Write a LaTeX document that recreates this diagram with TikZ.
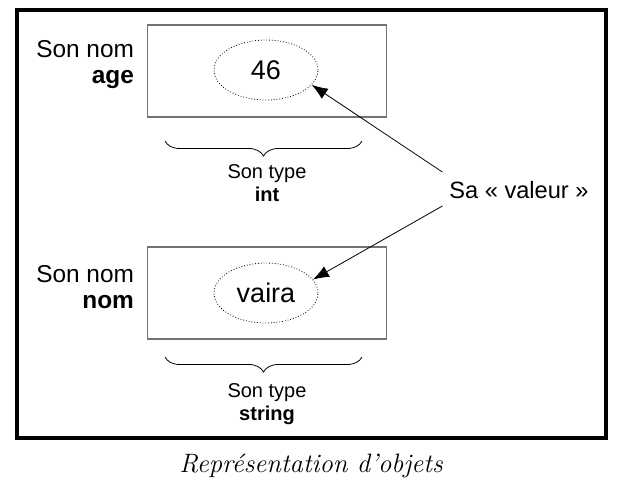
\documentclass[tikz,border=0pt]{standalone}
\usepackage{fontspec}
\newfontfamily\arial{Liberation Sans}
\usetikzlibrary{decorations.pathreplacing, arrows.meta, shapes.geometric, positioning}

\tikzset{
  box/.style={draw=black!55, line width=0.6pt, minimum width=119.5pt, minimum height=46pt},
  val/.style={ellipse, draw, densely dotted, line width=0.4pt, minimum width=52pt, minimum height=30pt, font=\arial\fontsize{13.5}{15}\selectfont},
  lbl/.style={align=right, anchor=east, font=\arial\fontsize{12.2}{13}\selectfont},
  typ/.style={align=center, font=\arial\fontsize{10}{11.5}\selectfont},
  brc/.style={decorate, decoration={brace, mirror, amplitude=7.5pt}, line width=0.4pt},
}

\begin{document}
\begin{tikzpicture}[x=0.5pt, y=-0.5pt, >={Latex[length=8pt, width=6pt]}]
  \useasboundingbox (0,0) rectangle (623,495);
  \draw[line width=2pt] (17,10) rectangle (606,438);

  % first variable
  \node[box] (b1) at (267,71) {};
  \node[val] (v1) at (266,70) {46};
  \node[lbl] (n1) at (141,65) {Son nom\\\textbf{age}};
  \draw[brc] (165,141) -- (362,141);
  \node[typ] (t1) at (267,183) {Son type\\\textbf{int}};

  % second variable
  \node[box] (b2) at (267,293) {};
  \node[val] (v2) at (266,293) {vaira};
  \node[lbl] (n2) at (141,287) {Son nom\\\textbf{nom}};
  \draw[brc] (165,357) -- (362,357);
  \node[typ] (t2) at (267,404) {Son type\\\textbf{string}};

  % the value
  \node[font=\arial\fontsize{11.8}{13}\selectfont] (sv) at (519,190) {Sa « valeur »};

  \draw
  ([yshift=9pt]sv.west) edge[->, line width=0.4pt] (v1.-18)
  ([yshift=-8pt]sv.west) edge[->, line width=0.4pt] (v2.16);

  \node[font=\fontsize{13.3}{15}\selectfont\itshape] (cap) at (311,466) {Représentation d'objets};
\end{tikzpicture}
\end{document}
